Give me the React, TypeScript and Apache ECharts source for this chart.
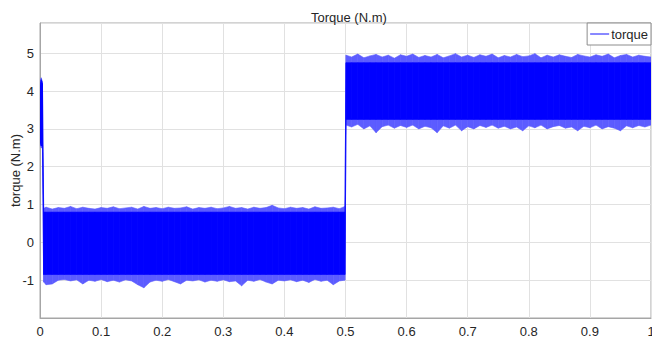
import React, { useEffect, useRef } from "react";
import * as echarts from "echarts";

// sample times (s)
const startupTime = [0, 0.002, 0.004];
const band1Time = [
  0.006, 0.01, 0.02, 0.03, 0.04, 0.05, 0.06, 0.07, 0.08, 0.09,
  0.1, 0.11, 0.12, 0.13, 0.14, 0.15, 0.16, 0.17, 0.18, 0.19,
  0.2, 0.21, 0.22, 0.23, 0.24, 0.25, 0.26, 0.27, 0.28, 0.29,
  0.3, 0.31, 0.32, 0.33, 0.34, 0.35, 0.36, 0.37, 0.38, 0.39,
  0.4, 0.41, 0.42, 0.43, 0.44, 0.45, 0.46, 0.47, 0.48, 0.49,
  0.499,
];
const band2Time = [
  0.501, 0.51, 0.52, 0.53, 0.54, 0.55, 0.56, 0.57, 0.58, 0.59,
  0.6, 0.61, 0.62, 0.63, 0.64, 0.65, 0.66, 0.67, 0.68, 0.69,
  0.7, 0.71, 0.72, 0.73, 0.74, 0.75, 0.76, 0.77, 0.78, 0.79,
  0.8, 0.81, 0.82, 0.83, 0.84, 0.85, 0.86, 0.87, 0.88, 0.89,
  0.9, 0.91, 0.92, 0.93, 0.94, 0.95, 0.96, 0.97, 0.98, 0.99,
  1.0,
];

// outer envelope (peaks of the torque ripple), N.m
const startupUpper = [4.2, 4.35, 4.25];
const startupLower = [2.6, 2.5, 2.5];
const band1Upper = [
  0.9, 0.93, 0.88, 0.92, 0.9, 0.95, 0.89, 0.93, 0.9, 0.88,
  0.92, 0.9, 0.94, 0.89, 0.91, 0.93, 0.88, 0.95, 0.9, 0.92,
  0.89, 0.93, 0.9, 0.91, 0.94, 0.88, 0.92, 0.9, 0.93, 0.89,
  0.91, 0.95, 0.9, 0.92, 0.88, 0.93, 0.9, 0.92, 0.98, 0.91,
  0.89, 0.93, 0.9, 0.92, 0.88, 0.94, 0.9, 0.91, 0.93, 0.89,
  0.95,
];
const band1Lower = [
  -1.05, -1.12, -1.1, -1.0, -0.98, -1.02, -0.99, -1.1, -1.0, -1.03,
  -0.98, -1.04, -1.0, -1.05, -0.99, -1.02, -1.12, -1.2, -1.05, -1.0,
  -1.03, -0.98, -1.04, -1.1, -1.0, -1.02, -0.99, -1.05, -1.0, -1.03,
  -0.99, -1.04, -1.02, -1.15, -1.0, -1.03, -0.98, -1.05, -1.1, -1.0,
  -1.02, -0.99, -1.04, -1.0, -1.06, -0.98, -1.03, -1.0, -1.12, -1.02,
  -1.0,
];
const band2Upper = [
  4.95, 4.9, 4.98, 4.88, 4.93, 4.97, 4.9, 4.95, 4.87, 4.96,
  4.92, 4.98, 4.89, 4.94, 4.9, 4.97, 4.88, 4.93, 4.99, 4.9,
  4.95, 4.89, 4.96, 4.92, 4.98, 4.88, 4.94, 4.9, 4.97, 4.91,
  4.93, 4.99, 4.88, 4.95, 4.9, 4.96, 4.92, 4.89, 4.97, 4.93,
  4.9, 4.96, 4.92, 4.98, 4.88, 4.94, 4.97, 4.9, 4.95, 4.92,
  4.9,
];
const band2Lower = [
  3.1, 3.05, 3.12, 3.0, 3.08, 2.9, 3.06, 3.1, 3.02, 3.09,
  3.04, 3.1, 3.0, 3.07, 3.03, 2.9, 3.08, 3.02, 3.1, 2.95,
  3.06, 3.0, 3.09, 3.04, 3.1, 3.02, 3.07, 3.0, 3.05, 2.95,
  3.08, 3.03, 3.1, 3.0, 3.06, 3.09, 3.02, 3.05, 2.95, 3.07,
  3.03, 3.1, 3.0, 3.06, 3.02, 2.95, 3.08, 3.03, 3.09, 3.05,
  3.1,
];

// dense core of the ripple band, N.m
const startupCoreUpper = [4.15, 4.3, 4.2];
const startupCoreLower = [2.65, 2.55, 2.55];
const band1CoreLevels = [-0.85, 0.8]; // [lower, upper]
const band2CoreLevels = [3.25, 4.75];

const xTicks = ["0", "0.1", "0.2", "0.3", "0.4", "0.5", "0.6", "0.7", "0.8", "0.9", "1"];

function segments(time: number[], lo: number[], hi: number[]) {
  const out: number[][] = [];
  for (let i = 0; i < time.length - 1; i++) {
    out.push([time[i], lo[i], hi[i], time[i + 1], lo[i + 1], hi[i + 1]]);
  }
  return out;
}

function bandRender(fill: string) {
  return (params: any, api: any) => {
    const pts = [
      api.coord([api.value(0), api.value(1)]),
      api.coord([api.value(0), api.value(2)]),
      api.coord([api.value(3), api.value(5)]),
      api.coord([api.value(3), api.value(4)]),
    ];
    return {
      type: "polygon",
      shape: { points: pts },
      style: { fill, stroke: fill, lineWidth: 0.6 },
    };
  };
}

export default function App() {
  const ref = useRef<HTMLDivElement>(null);
  useEffect(() => {
    if (!ref.current) return;
    const chart = echarts.init(ref.current, undefined, { renderer: "svg" });

    const time = [...startupTime, ...band1Time, ...band2Time];
    const upper = [...startupUpper, ...band1Upper, ...band2Upper];
    const lower = [...startupLower, ...band1Lower, ...band2Lower];
    const coreUpper = [
      ...startupCoreUpper,
      ...band1Time.map(() => band1CoreLevels[1]),
      ...band2Time.map(() => band2CoreLevels[1]),
    ];
    const coreLower = [
      ...startupCoreLower,
      ...band1Time.map(() => band1CoreLevels[0]),
      ...band2Time.map(() => band2CoreLevels[0]),
    ];

    const font = "'Liberation Sans', Arial, Helvetica, sans-serif";
    const textColor = "#262626";

    const option: any = {
      animation: false,
      textStyle: { fontFamily: font },
      title: {
        text: "Torque (N.m)",
        left: 306,
        top: 6,
        textStyle: { fontSize: 13, fontWeight: "normal", color: textColor, fontFamily: font },
      },
      grid: {
        left: 40,
        right: 1,
        top: 23,
        bottom: 25,
        show: true,
        borderColor: "#a6a6a6",
        borderWidth: 1,
        containLabel: false,
        outerBoundsMode: "none",
      },
      legend: {
        data: [{ name: "torque", icon: "rect" }],
        right: 1,
        top: 23,
        orient: "vertical",
        itemWidth: 19,
        itemHeight: 1.2,
        padding: [4, 3, 4, 3],
        borderColor: "#8c8c8c",
        borderWidth: 1,
        backgroundColor: "#ffffff",
        textStyle: {
          fontSize: 13,
          color: textColor,
          fontFamily: font,
          padding: [0, 0, 0, -3],
          lineHeight: 14,
        },
      },
      xAxis: {
        type: "value",
        min: 0,
        max: 1,
        interval: 0.1,
        axisLine: { show: true, onZero: false, lineStyle: { color: "#a6a6a6" } },
        axisTick: { show: false },
        axisLabel: {
          color: textColor,
          fontSize: 13,
          margin: 7,
          fontFamily: font,
          formatter: (v: number) => xTicks[Math.round(v * 10)] ?? "",
        },
        splitLine: { show: true, lineStyle: { color: "#e1e1e1" } },
      },
      yAxis: {
        type: "value",
        min: -2,
        max: 5.8,
        interval: 1,
        name: "torque (N.m)",
        nameLocation: "middle",
        nameGap: 18,
        nameMoveOverlap: false,
        nameTextStyle: { fontSize: 13, color: textColor, fontFamily: font },
        axisLine: { show: true, lineStyle: { color: "#a6a6a6" } },
        axisTick: { show: false },
        axisLabel: {
          color: textColor,
          fontSize: 13,
          margin: 6,
          fontFamily: font,
          formatter: (v: number) =>
            v === -2 || Math.abs(v - Math.round(v)) > 1e-6 ? "" : String(Math.round(v)),
        },
        splitLine: { show: true, lineStyle: { color: "#e1e1e1" } },
      },
      series: [
        {
          name: "torque-band",
          type: "custom",
          silent: true,
          clip: true,
          renderItem: bandRender("#5c5cff"),
          encode: { x: [0, 3], y: [1, 2, 4, 5] },
          data: segments(time, lower, upper),
        },
        {
          name: "torque-core",
          type: "custom",
          silent: true,
          clip: true,
          renderItem: bandRender("#0000ff"),
          encode: { x: [0, 3], y: [1, 2, 4, 5] },
          data: segments(time, coreLower, coreUpper),
        },
        {
          name: "torque",
          type: "line",
          symbol: "none",
          showSymbol: false,
          data: [],
          color: "#3a3aff",
          itemStyle: { color: "#3a3aff" },
          lineStyle: { color: "#3a3aff", width: 1 },
        },
      ],
    };
    chart.setOption(option);
    return () => chart.dispose();
  }, []);

  return (
    <div
      ref={ref}
      style={{ position: "fixed", left: 0, top: 0, width: 652, height: 343, background: "#fff" }}
    />
  );
}
